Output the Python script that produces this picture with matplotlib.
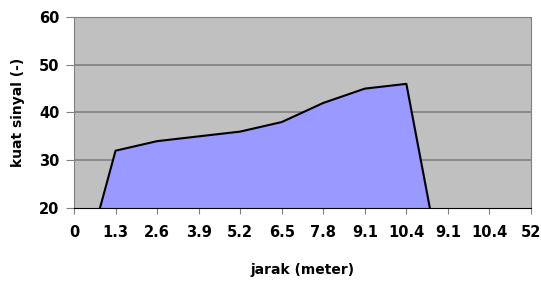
import matplotlib.pyplot as plt

# jarak categories (as labelled on the x axis) and signal strength
jarak = ["0", "1.3", "2.6", "3.9", "5.2", "6.5", "7.8", "9.1", "10.4", "9.1", "10.4", "52"]
sinyal = [0, 32, 34, 35, 36, 38, 42, 45, 46, 0, 0, 0]
yticks = [20, 30, 40, 50, 60]

plt.rcParams['font.family'] = ['DejaVu Sans']

fig = plt.figure(figsize=(5.41, 2.81), dpi=100)
ax = fig.add_axes([0.1368, 0.2598, 0.8447, 0.6797])
ax.set_facecolor('#C0C0C0')

x = list(range(len(jarak)))
ax.fill_between(x, 0, sinyal, color='#9999FF', zorder=2)
ax.plot(x, sinyal, color='black', lw=1.5, zorder=3)

ax.set_xlim(0, len(jarak) - 1)
ax.set_ylim(20, 60)
ax.set_yticks(yticks)
ax.set_xticks(x)
ax.set_xticklabels(jarak)
for y in yticks[1:]:
    ax.axhline(y, color='#808080', lw=1.2, zorder=1)

for s in ['top', 'right', 'left']:
    ax.spines[s].set_color('#808080')
ax.spines['bottom'].set_color('black')
ax.spines['bottom'].set_zorder(4)
ax.tick_params(axis='y', colors='#808080', length=6, labelcolor='black', labelsize=10.5, pad=4.5)
ax.tick_params(axis='x', colors='#808080', length=4, labelcolor='black', labelsize=10.5, pad=8)
for lbl in ax.get_xticklabels() + ax.get_yticklabels():
    lbl.set_fontweight('bold')

ax.set_xlabel('jarak (meter)', fontsize=10, fontweight='bold', labelpad=17)
ax.set_ylabel('kuat sinyal (-)', fontsize=10, fontweight='bold', labelpad=10)

fig.savefig('out.png', dpi=100)
